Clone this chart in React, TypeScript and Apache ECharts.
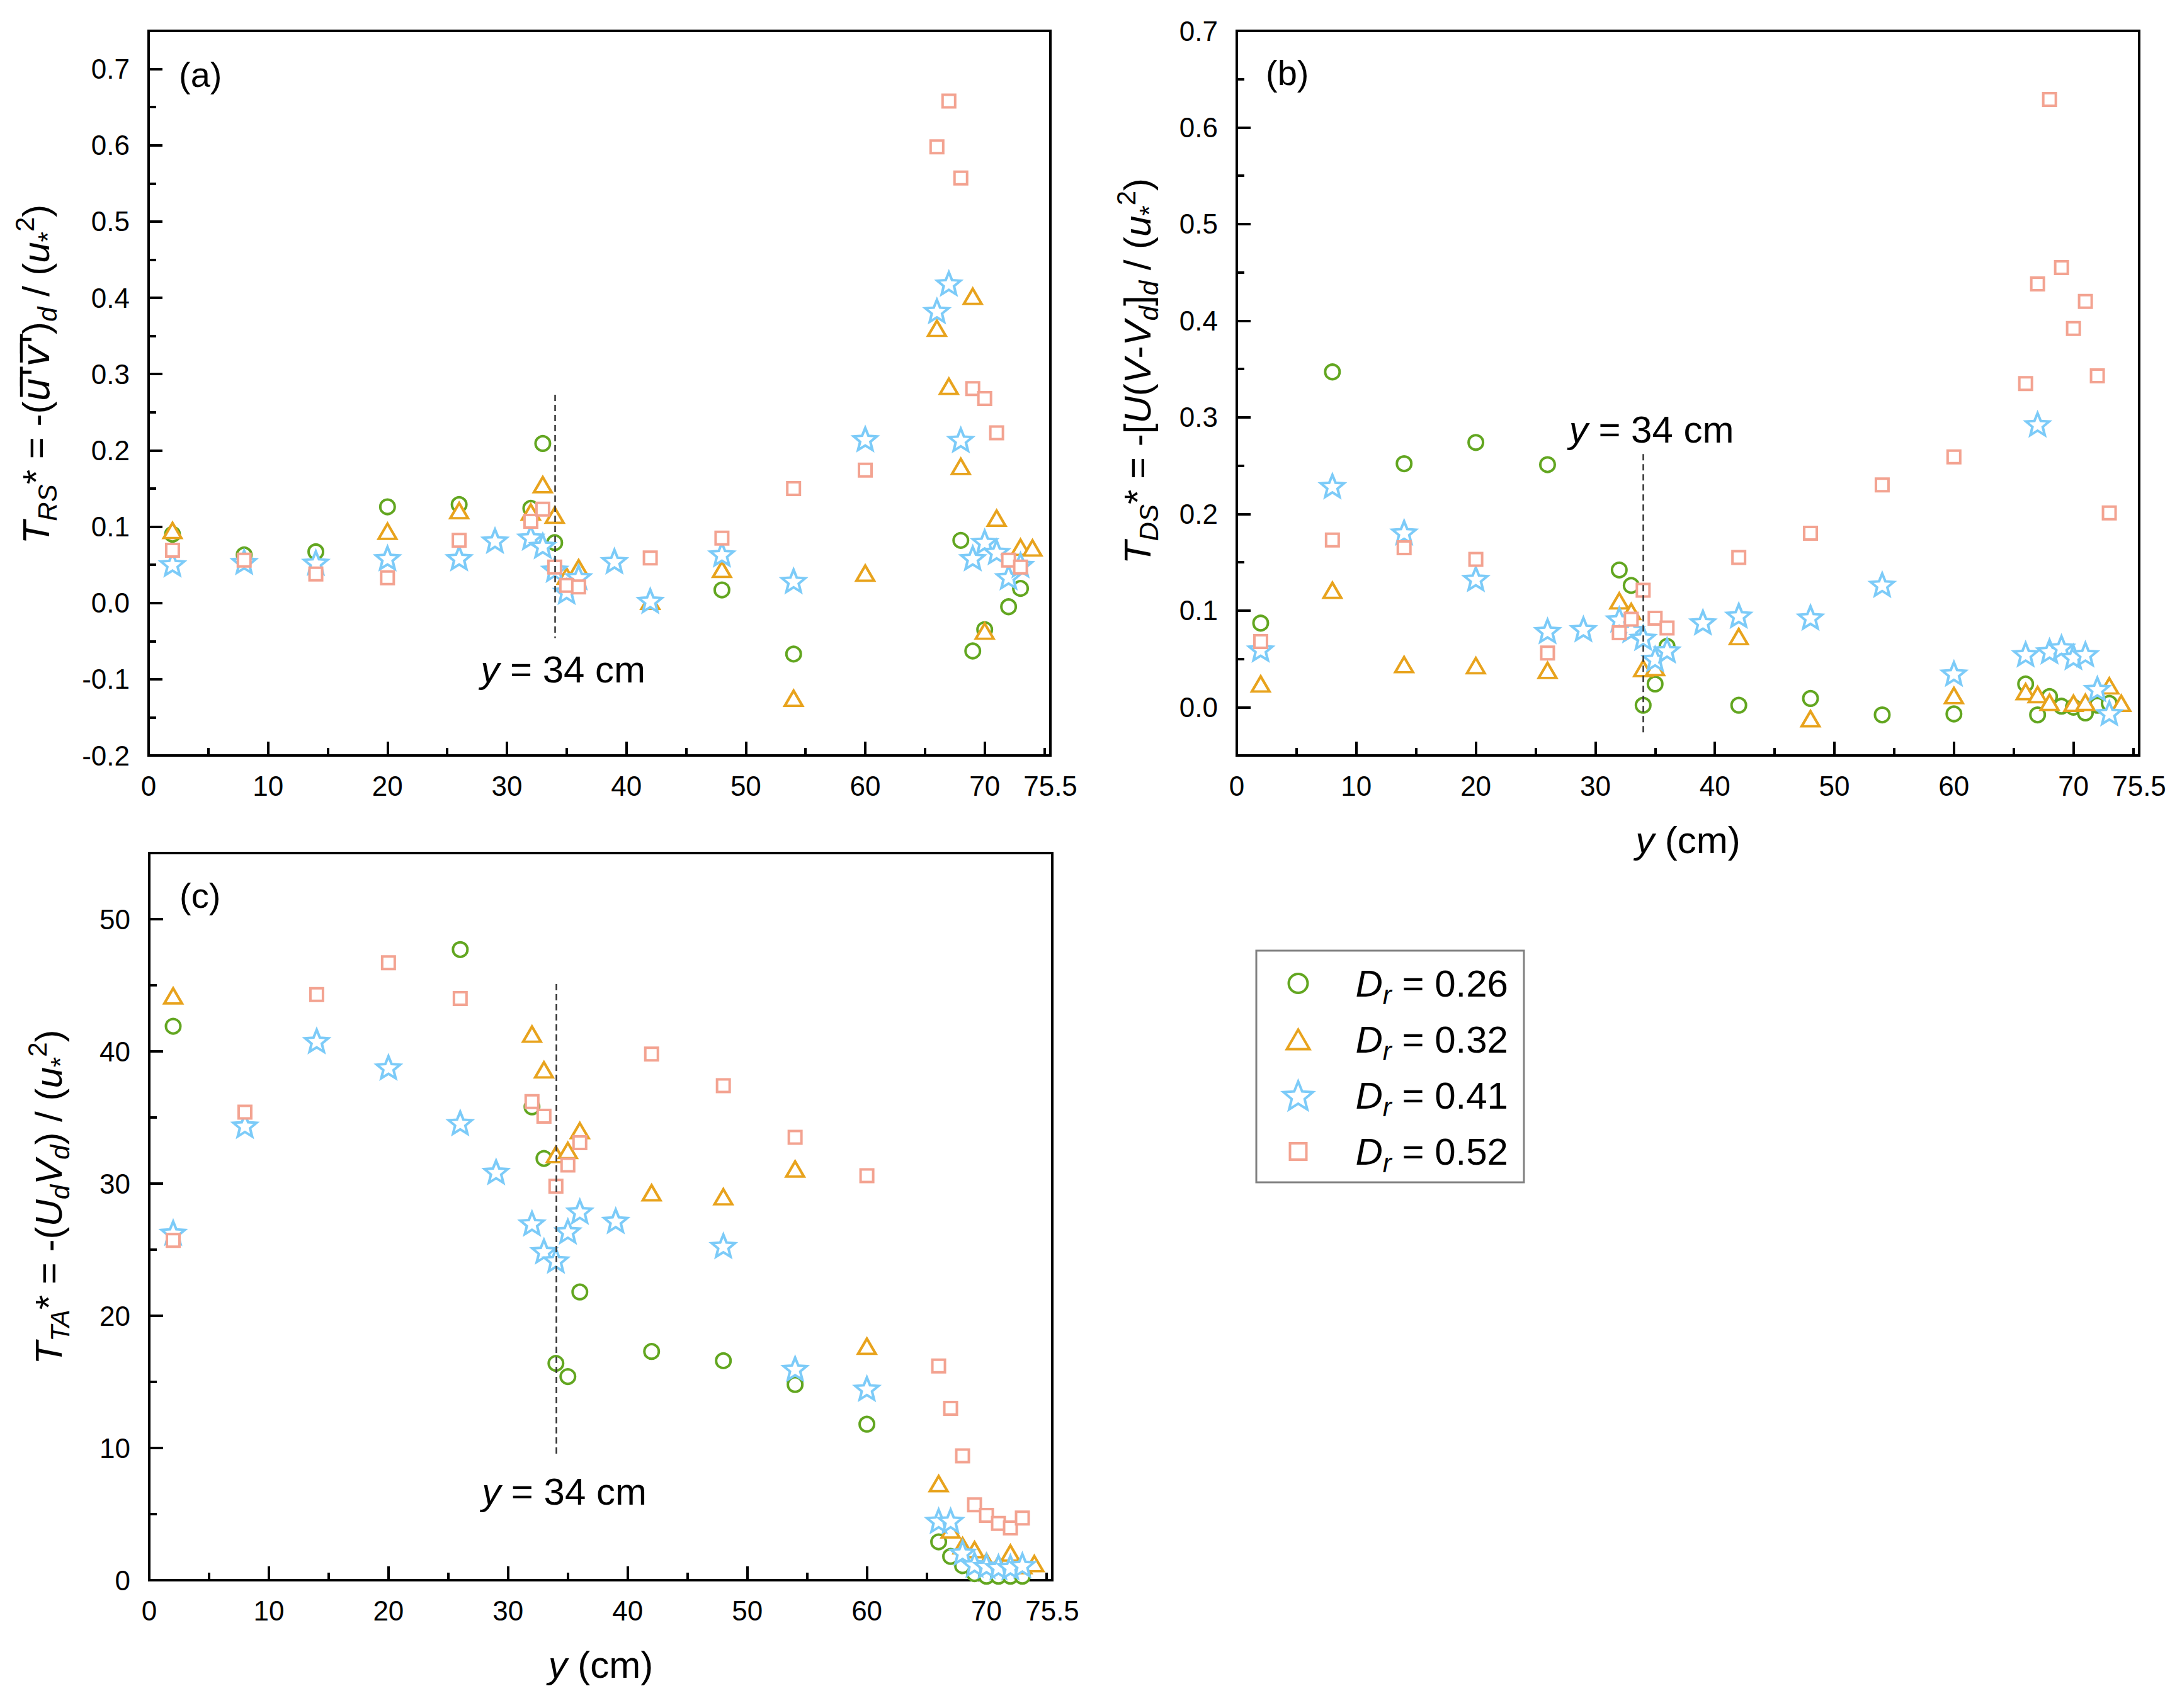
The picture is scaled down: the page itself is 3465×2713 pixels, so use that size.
import React, { useEffect, useRef } from 'react';
import * as echarts from 'echarts';

const W = 3465;
const H = 2713;
const FONT = '"Liberation Sans", Arial, Helvetica, sans-serif';

// ---------------- data ----------------
const seriesNames = ['Dr = 0.26', 'Dr = 0.32', 'Dr = 0.41', 'Dr = 0.52'];
const colors = ['#62A620', '#E8A31D', '#7CCBF8', '#F3A391'];

// x axis (y, cm)
const X_MIN = 0;
const X_MAX = 75.5;
const X_MAJOR = 10;
const X_MINOR = 5;

// panel (a): T_RS*
const a026 = [[2, 0.090], [8, 0.063], [14, 0.067], [20, 0.126], [26, 0.129], [32, 0.124], [33, 0.209], [34, 0.079], [48, 0.017], [54, -0.067], [68, 0.082], [69, -0.063], [70, -0.035], [72, -0.005], [73, 0.019]];
const a032 = [[2, 0.095], [20, 0.094], [26, 0.121], [32, 0.119], [33, 0.155], [34, 0.115], [35, 0.035], [36, 0.046], [42, 0.002], [48, 0.044], [54, -0.125], [60, 0.039], [66, 0.360], [67, 0.284], [68, 0.179], [69, 0.402], [70, -0.037], [71, 0.111], [73, 0.073], [74, 0.072]];
const a041 = [[2, 0.051], [8, 0.054], [14, 0.053], [20, 0.059], [26, 0.059], [29, 0.082], [32, 0.086], [33, 0.075], [34, 0.044], [35, 0.015], [36, 0.034], [39, 0.055], [42, 0.003], [48, 0.064], [54, 0.029], [60, 0.215], [66, 0.383], [67, 0.419], [68, 0.214], [69, 0.059], [70, 0.080], [71, 0.067], [72, 0.034], [73, 0.050]];
const a052 = [[2, 0.069], [8, 0.056], [14, 0.038], [20, 0.033], [26, 0.082], [32, 0.107], [33, 0.123], [34, 0.047], [35, 0.023], [36, 0.021], [42, 0.059], [48, 0.085], [54, 0.150], [60, 0.174], [66, 0.598], [67, 0.658], [68, 0.557], [69, 0.281], [70, 0.268], [71, 0.223], [72, 0.056], [73, 0.047]];

// panel (b): T_DS*
const b026 = [[2, 0.087], [8, 0.347], [14, 0.252], [20, 0.274], [26, 0.251], [32, 0.142], [33, 0.126], [34, 0.002], [35, 0.024], [36, 0.063], [42, 0.002], [48, 0.009], [54, -0.008], [60, -0.007], [66, 0.024], [67, -0.008], [68, 0.011], [69, 0.001], [70, 0.000], [71, -0.006], [72, 0.002], [73, 0.004]];
const b032 = [[2, 0.024], [8, 0.121], [14, 0.044], [20, 0.043], [26, 0.038], [32, 0.110], [33, 0.099], [34, 0.040], [35, 0.041], [42, 0.073], [48, -0.012], [60, 0.012], [66, 0.016], [67, 0.013], [68, 0.005], [70, 0.004], [71, 0.005], [73, 0.022], [74, 0.004]];
const b041 = [[2, 0.060], [8, 0.229], [14, 0.181], [20, 0.133], [26, 0.079], [29, 0.081], [32, 0.091], [33, 0.080], [34, 0.072], [35, 0.050], [36, 0.059], [39, 0.088], [42, 0.095], [48, 0.093], [54, 0.127], [60, 0.035], [66, 0.055], [67, 0.293], [68, 0.058], [69, 0.062], [70, 0.052], [71, 0.055], [72, 0.019], [73, -0.006]];
const b052 = [[2, 0.068], [8, 0.173], [14, 0.165], [20, 0.153], [26, 0.056], [32, 0.077], [33, 0.091], [34, 0.121], [35, 0.092], [36, 0.082], [42, 0.155], [48, 0.180], [54, 0.230], [60, 0.259], [66, 0.335], [67, 0.438], [68, 0.629], [69, 0.455], [70, 0.392], [71, 0.420], [72, 0.343], [73, 0.201]];

// panel (c): T_TA*
const c026 = [[2, 41.9], [26, 47.7], [32, 35.8], [33, 31.9], [34, 16.4], [35, 15.4], [36, 21.8], [42, 17.3], [48, 16.6], [54, 14.8], [60, 11.8], [66, 2.9], [67, 1.8], [68, 1.1], [69, 0.5], [70, 0.3], [71, 0.3], [72, 0.3], [73, 0.3]];
const c032 = [[2, 44.2], [32, 41.3], [33, 38.6], [34, 32.2], [35, 32.5], [36, 34.0], [42, 29.3], [48, 29.0], [54, 31.1], [60, 17.7], [66, 7.3], [67, 3.8], [68, 2.6], [69, 2.3], [70, 1.4], [71, 1.2], [72, 2.05], [73, 1.1], [74, 1.25]];
const c041 = [[2, 26.3], [8, 34.4], [14, 40.8], [20, 38.8], [26, 34.6], [29, 30.9], [32, 27.0], [33, 24.9], [34, 24.2], [35, 26.4], [36, 27.9], [39, 27.2], [48, 25.3], [54, 16.0], [60, 14.5], [66, 4.5], [67, 4.5], [68, 2.1], [69, 1.2], [70, 1.1], [71, 1.0], [72, 1.0], [73, 1.15]];
const c052 = [[2, 25.7], [8, 35.4], [14, 44.3], [20, 46.7], [26, 44.0], [32, 36.2], [33, 35.1], [34, 29.8], [35, 31.4], [36, 33.1], [42, 39.8], [48, 37.4], [54, 33.5], [60, 30.6], [66, 16.2], [67, 13.0], [68, 9.4], [69, 5.7], [70, 4.9], [71, 4.3], [72, 3.95], [73, 4.7]];

// reference line at y = 34 cm: [x, top, bottom] and note position [x, y]
const REF_X = 34;
const refA = [0.273, -0.046];
const refB = [0.262, -0.028];
const refC = [45.1, 9.5];
const noteA = [34.7, -0.087];
const noteB = [34.7, 0.287];
const noteC = [34.7, 6.7];

// y axis ranges
const yA = { min: -0.2, max: 0.75, major: 0.1, minor: 0.05 };
const yB = { min: -0.05, max: 0.7, major: 0.1, minor: 0.05 };
const yC = { min: 0, max: 55, major: 10, minor: 5 };

// ---------------- styling helpers ----------------
const STAR = 'path://M50 0 L62.93 32.2 L97.55 34.55 L70.92 56.8 L79.39 90.45 L50 72 L20.61 90.45 L29.08 56.8 L2.45 34.55 L37.07 32.2 Z';
const markers: any[] = [
  { symbol: 'circle', size: 23 },
  { symbol: 'triangle', size: [28, 24] },
  { symbol: STAR, size: [37, 35] },
  { symbol: 'rect', size: 20 },
];
const legendIcons = [
  'path://M0 0 M49 49 M9.5 24.5 A15 15 0 1 1 39.5 24.5 A15 15 0 1 1 9.5 24.5 Z',
  'path://M0 0 M49 49 M24.5 9 L42.5 40 L6.5 40 Z',
  'path://M0 0 M100 100 M50 4.8 L62.93 37 L97.55 39.35 L70.92 61.6 L79.39 95.25 L50 76.8 L20.61 95.25 L29.08 61.6 L2.45 39.35 L37.07 37 Z',
  'path://M0 0 M49 49 M11.5 11.5 L37.5 11.5 L37.5 37.5 L11.5 37.5 Z',
];

function richSet(S: number, extraLeft = 0) {
  const L = Math.round(S * 1.4);
  const s2 = Math.round(S * 0.7);
  const pSub = Math.round(L / 2 + 0.35 * S + 0.2 * S - 0.85 * s2);
  const pSup = Math.max(0, Math.round(L / 2 + 0.35 * S - 0.4 * S - 0.85 * s2));
  const base = { fontSize: S, lineHeight: L, fontFamily: FONT, color: '#000' };
  return {
    n: { ...base },
    i: { ...base, fontStyle: 'italic' },
    iD: { ...base, fontStyle: 'italic', padding: [0, 0, 0, extraLeft] },
    ov: { ...base, fontStyle: 'italic', fontFamily: '"DejaVu Sans", sans-serif' },
    sub: { fontSize: s2, lineHeight: s2, fontFamily: FONT, color: '#000', fontStyle: 'italic', verticalAlign: 'top', padding: [pSub, 0, 0, 0] },
    subn: { fontSize: s2, lineHeight: s2, fontFamily: FONT, color: '#000', verticalAlign: 'top', padding: [pSub, 0, 0, 0] },
    sup: { fontSize: s2, lineHeight: s2, fontFamily: FONT, color: '#000', verticalAlign: 'top', padding: [pSup, 0, 0, 0] },
  };
}

const titleA = "{i|T}{sub|RS}{n|* = -(}{ov|u\u0305'\u0305v\u0305'\u0305}{n|)}{sub|d}{n| / (}{i|u}{subn|*}{sup|2}{n|)}";
const titleB = '{i|T}{sub|DS}{n|* = -[}{i|U}{n|(}{i|V}{n|-}{i|V}{sub|d}{n|]}{sub|d}{n| / (}{i|u}{subn|*}{sup|2}{n|)}';
const titleC = '{i|T}{sub|TA}{n|* = -(}{i|U}{sub|d}{i|V}{sub|d}{n|) / (}{i|u}{subn|*}{sup|2}{n|)}';
const xTitle = '{i|y}{n| (cm)}';

const grids = [
  { left: 236, top: 49, width: 1432, height: 1151 },
  { left: 1964, top: 49, width: 1433, height: 1151 },
  { left: 237, top: 1355, width: 1434, height: 1155 },
];

function xMajor(gi: number, withName: boolean) {
  return {
    type: 'value', gridIndex: gi, position: 'bottom', min: X_MIN, max: X_MAX, interval: X_MAJOR,
    axisLine: { show: true, onZero: false, lineStyle: { color: '#000', width: 4 } },
    axisTick: { show: true, inside: true, length: 22, lineStyle: { color: '#000', width: 4 } },
    axisLabel: {
      show: true, margin: 26, fontSize: 44, color: '#000', fontFamily: FONT, showMinLabel: true, showMaxLabel: true,
      formatter: (v: number) => String(Math.round(v * 10) / 10),
    },
    splitLine: { show: false },
    name: withName ? xTitle : '', nameLocation: 'middle', nameGap: 92,
    nameTextStyle: { rich: richSet(60) },
  };
}
function xMinor(gi: number) {
  return {
    type: 'value', gridIndex: gi, position: 'bottom', min: X_MIN, max: X_MAX, interval: X_MINOR,
    axisLine: { show: false, onZero: false },
    axisTick: { show: true, inside: true, length: 12, lineStyle: { color: '#000', width: 4 } },
    axisLabel: { show: false }, splitLine: { show: false },
  };
}
function yMajor(gi: number, r: any, fmt: (v: number) => string, name: string, gap: number, shift: number, niceOnly: boolean) {
  const scale: any = niceOnly
    ? { min: r.min, max: r.max, minInterval: r.major, maxInterval: r.major, splitNumber: 8 }
    : { min: r.min, max: r.max, interval: r.major };
  return {
    type: 'value', gridIndex: gi, position: 'left', ...scale,
    axisLine: { show: true, onZero: false, lineStyle: { color: '#000', width: 4 } },
    axisTick: { show: true, inside: true, length: 22, lineStyle: { color: '#000', width: 4 } },
    axisLabel: { show: true, margin: 30, fontSize: 44, color: '#000', fontFamily: FONT, showMinLabel: true, showMaxLabel: true, formatter: fmt },
    splitLine: { show: false },
    name, nameLocation: 'middle', nameRotate: 90, nameGap: gap,
    nameTextStyle: { rich: richSet(60), padding: [0, 0, 0, shift] },
  };
}
function yMinor(gi: number, r: any) {
  return {
    type: 'value', gridIndex: gi, position: 'left', min: r.min, max: r.max, interval: r.minor,
    axisLine: { show: false, onZero: false },
    axisTick: { show: true, inside: true, length: 12, lineStyle: { color: '#000', width: 4 } },
    axisLabel: { show: false }, splitLine: { show: false },
  };
}

const fmt1 = (lo: number, hi: number) => (v: number) => {
  if (v < lo - 1e-9 || v > hi + 1e-9) return '';
  const t = Math.abs(v) < 1e-9 ? 0 : v;
  return t.toFixed(1);
};
const fmtC = (v: number) => (v > 50.5 ? '' : String(Math.round(v)));

const annRich = {
  i: { fontSize: 60, fontStyle: 'italic', fontFamily: FONT, color: '#000' },
  n: { fontSize: 60, fontFamily: FONT, color: '#000' },
};

function noteSeries(axisIdx: number, ref: number[], note: number[]) {
  return {
    type: 'scatter', name: 'note', xAxisIndex: axisIdx, yAxisIndex: axisIdx, data: [], silent: true, z: 5,
    markLine: {
      silent: true, symbol: ['none', 'none'], label: { show: false },
      lineStyle: { type: [10, 6], color: '#333', width: 2.5 },
      emphasis: { disabled: true },
      data: [[{ coord: [REF_X, ref[0]] }, { coord: [REF_X, ref[1]] }]],
    },
    markPoint: {
      silent: true, symbol: 'rect', symbolSize: 1, itemStyle: { color: 'rgba(0,0,0,0)' },
      label: { show: true, position: 'inside', formatter: '{i|y}{n| = 34 cm}', rich: annRich },
      data: [{ coord: note }],
    },
  };
}

const panels = [
  [a026, a032, a041, a052],
  [b026, b032, b041, b052],
  [c026, c032, c041, c052],
];

function buildOption() {
  const series: any[] = [];
  panels.forEach((sets, p) => {
    sets.forEach((d, k) => {
      series.push({
        type: 'scatter', name: seriesNames[k], xAxisIndex: 2 * p, yAxisIndex: 2 * p,
        data: d, symbol: markers[k].symbol, symbolSize: markers[k].size,
        itemStyle: { color: '#fff', borderColor: colors[k], borderWidth: 4, opacity: 1 },
        emphasis: { disabled: true }, z: 2,
      });
    });
  });
  series.push(noteSeries(0, refA, noteA));
  series.push(noteSeries(2, refB, noteB));
  series.push(noteSeries(4, refC, noteC));

  const legendRich = richSet(60, 44);
  const panelLabel = (text: string, left: number, top: number) => ({
    text, left, top, padding: 0,
    textStyle: { fontSize: 56, fontWeight: 'normal', color: '#000', fontFamily: FONT },
  });

  return {
    animation: false,
    backgroundColor: '#fff',
    title: [panelLabel('(a)', 284, 90), panelLabel('(b)', 2010, 87), panelLabel('(c)', 285, 1394)],
    grid: grids.map((g) => ({ ...g, show: true, borderColor: '#000', borderWidth: 4, backgroundColor: 'transparent', containLabel: false })),
    xAxis: [xMajor(0, false), xMinor(0), xMajor(1, true), xMinor(1), xMajor(2, true), xMinor(2)],
    yAxis: [
      yMajor(0, yA, fmt1(-0.2, 0.7), titleA, 137, 60, false), yMinor(0, yA),
      yMajor(1, yB, fmt1(0, 0.7), titleB, 116, 70, true), yMinor(1, yB),
      yMajor(2, yC, fmtC, titleC, 118, 62, false), yMinor(2, yC),
    ],
    legend: {
      show: true, orient: 'vertical', left: 1995, top: 1510,
      itemWidth: 84, itemHeight: 49, itemGap: 8, symbolKeepAspect: true,
      padding: [10, 25, 10, 40], borderColor: '#808080', borderWidth: 3, backgroundColor: '#fff',
      selectedMode: false,
      data: seriesNames.map((n, k) => ({
        name: n, icon: legendIcons[k],
        itemStyle: { color: '#fff', borderColor: colors[k], borderWidth: 4 },
      })),
      formatter: (name: string) => `{iD|D}{sub|r}{n| = ${name.split('= ')[1]}}`,
      textStyle: { rich: legendRich, fontSize: 60, fontFamily: FONT, color: '#000' },
    },
    series,
  };
}

export default function App() {
  const ref = useRef<HTMLDivElement>(null);
  useEffect(() => {
    document.body.style.margin = '0';
    if (!ref.current) return;
    const chart = echarts.init(ref.current, null, { renderer: 'svg', width: W, height: H });
    chart.setOption(buildOption() as any);
    return () => chart.dispose();
  }, []);
  return <div ref={ref} style={{ width: W, height: H, background: '#fff' }} />;
}
